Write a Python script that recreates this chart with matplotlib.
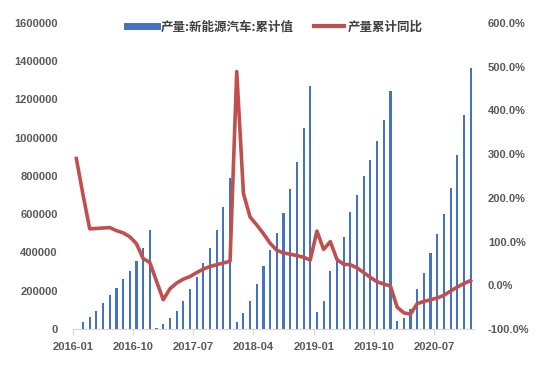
"""
China NEV output: cumulative production (bars) vs cumulative YoY growth (line),
monthly 2016-01 .. 2020-12, twin y axes.
"""

import numpy as np
import matplotlib
matplotlib.use("Agg")
import matplotlib.pyplot as plt
from matplotlib.lines import Line2D

months = [f"{y}-{m:02d}" for y in range(2016, 2021) for m in range(1, 13)]

# cumulative production, units (2016-01 not reported)
output_2016 = [np.nan, 38000, 64000, 95000, 134000, 177000, 216000, 259000, 303000, 355000, 426000, 517000]
output_2017 = [7000, 26000, 57000, 95000, 146000, 210000, 270000, 344000, 423000, 517000, 637000, 792000]
output_2018 = [38000, 82000, 148000, 233000, 329000, 412000, 503000, 607000, 732000, 875000, 1053000, 1268000]
output_2019 = [90000, 145000, 304000, 368000, 479000, 612000, 700000, 799000, 886000, 981000, 1091000, 1242000]
output_2020 = [42000, 56000, 104000, 207000, 294000, 395000, 496000, 600000, 736000, 912000, 1117000, 1364000]

# cumulative YoY, %
yoy_2016 = [290, 207, 129, 130, 131, 132, 125, 120, 111, 95, 61, 52]
yoy_2017 = [9, -33, -8, 5, 14, 20, 29, 37, 43, 47, 51, 55]
yoy_2018 = [489, 210, 156, 138, 118, 96, 80, 74, 71, 68, 64, 58]
yoy_2019 = [124, 82, 100, 59, 48, 47, 40, 29, 18, 8, 3, -2]
yoy_2020 = [-50, -63, -66, -42, -37, -33, -29, -23, -13, -4, 4, 11]

output = np.array(output_2016 + output_2017 + output_2018 + output_2019 + output_2020, dtype=float)
yoy = np.array(yoy_2016 + yoy_2017 + yoy_2018 + yoy_2019 + yoy_2020, dtype=float)

bar_label = "产量:新能源汽车:累计值"
line_label = "产量累计同比"

BLUE = "#4472C4"
RED = "#C0504D"
TXT = "#595959"
AXIS = "#D9D9D9"
num_font = dict(family=["Liberation Sans", "DejaVu Sans"], weight="bold", size=8, color=TXT)

fig = plt.figure(figsize=(5.5, 3.65), dpi=100)
ax = fig.add_axes([73 / 550, 1 - 329 / 365, (474 - 73) / 550, (329 - 23) / 365])
ax2 = ax.twinx()

x = np.arange(len(months))
ax.bar(x, output, width=0.32, color=BLUE, zorder=1)
ax2.plot(x, yoy, color=RED, lw=2.6, solid_joinstyle="round", zorder=3)

ax.set_xlim(-0.5, len(months) - 0.5)
ax.set_ylim(0, 1600000)
ax2.set_ylim(-100, 600)

# x ticks on category boundaries, every 9 months
tick_idx = np.arange(0, len(months), 9)
ax.set_xticks(tick_idx - 0.5)
ax.set_xticklabels([months[i] for i in tick_idx], fontdict=num_font)

left_ticks = np.arange(0, 1600001, 200000)
ax.set_yticks(left_ticks)
ax.set_yticklabels([f"{v:d}" for v in left_ticks], fontdict=num_font)
right_ticks = np.arange(-100, 601, 100)
ax2.set_yticks(right_ticks)
ax2.set_yticklabels([f"{v:.1f}%" for v in right_ticks], fontdict=num_font)

for a in (ax, ax2):
    for side in ("top", "left", "right"):
        a.spines[side].set_visible(False)
    a.spines["bottom"].set_color(AXIS)
ax2.spines["bottom"].set_visible(False)
ax.tick_params(axis="y", length=0, pad=11)
ax2.tick_params(axis="y", length=0, pad=10)
ax.tick_params(axis="x", length=4, color=AXIS, pad=5)

handles = [Line2D([], [], color=BLUE, lw=5), Line2D([], [], color=RED, lw=3)]
leg = fig.legend(handles, [bar_label, line_label], loc="upper center",
                 bbox_to_anchor=(0.5, 0.975), ncol=2, frameon=False,
                 handlelength=2.4, columnspacing=1.6, handletextpad=0.3,
                 prop=dict(family=["Noto Sans CJK SC", "DejaVu Sans"], weight="bold", size=9))
for t in leg.get_texts():
    t.set_color("#404040")

fig.savefig("out.png", dpi=100)
